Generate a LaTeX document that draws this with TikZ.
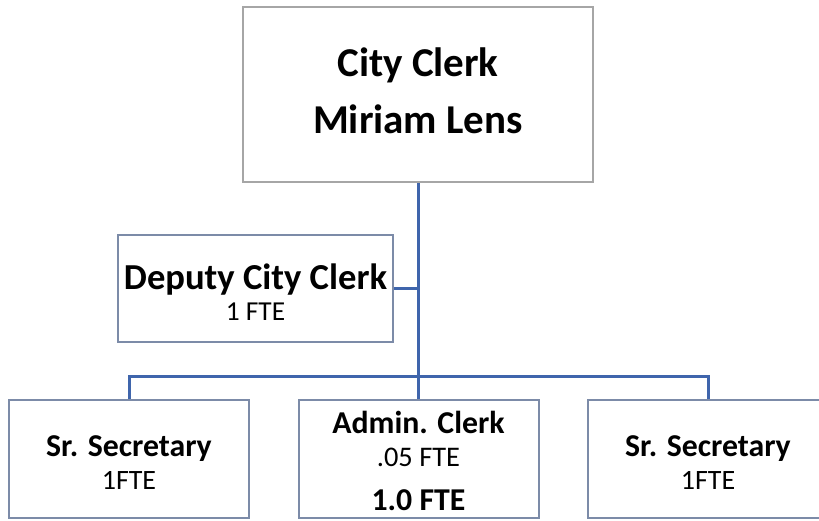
\documentclass[tikz,border=0pt]{standalone}
\usepackage{fontspec}
\setmainfont{Carlito}
\usepackage{tikz}

\definecolor{linkblue}{HTML}{3F65AC}
\definecolor{boxblue}{HTML}{7C8BA8}
\definecolor{boxgray}{HTML}{A6A6A6}

\begin{document}
\begin{tikzpicture}[x=0.5pt,y=-0.5pt]

\tikzset{
    topbox/.style={draw=boxgray, line width=1pt, fill=white, align=center, inner sep=0pt},
    unitbox/.style={draw=boxblue, line width=1pt, fill=white, align=center, inner sep=0pt,
        minimum width=120pt, minimum height=59pt, font=\fontsize{14}{16.5}\selectfont},
    link/.style={draw=linkblue, line width=1.5pt}
}
\useasboundingbox (0,0) rectangle (819,520);
\clip (0,0) rectangle (819,520);

\coordinate (bus) at (418.5,376);

\node[topbox, minimum width=175pt, minimum height=87.5pt, font=\fontsize{20.5}{28.5}\selectfont\bfseries] (clerk) at (418,94.5)
    {City Clerk\\Miriam Lens\rule[-3.5pt]{0pt}{3.5pt}};
\node[topbox, draw=boxblue, minimum width=137.5pt, minimum height=53.5pt, font=\fontsize{13.7}{15.5}\selectfont] (deputy) at (255.5,288.5)
    {{\fontsize{18.3}{22}\selectfont\bfseries\rule{0pt}{16.5pt}Deputy City Clerk}\\1 FTE};

\node[unitbox] (secleft) at (129,459)
    {{\fontsize{15.9}{19}\selectfont\bfseries\rule{0pt}{14.2pt}Sr. Secretary}\\1FTE};
\node[unitbox] (admin) at (418.5,459)
    {{\fontsize{15.9}{19}\selectfont\bfseries\rule{0pt}{13.6pt}Admin. Clerk}\\{\fontsize{14.2}{16}\selectfont .05 FTE}\\[5.5pt]{\fontsize{15.9}{19}\selectfont\bfseries 1.0 FTE}};
\node[unitbox] (secright) at (708,459)
    {{\fontsize{15.9}{19}\selectfont\bfseries\rule{0pt}{14.2pt}Sr. Secretary}\\1FTE};

\draw[link] (clerk.south) -- (clerk.south |- admin.north);
\draw[link] (deputy.east) -- (deputy.east -| clerk.south);
\draw[link] (secleft.north) |- (bus) -| (secright.north);

\end{tikzpicture}
\end{document}
